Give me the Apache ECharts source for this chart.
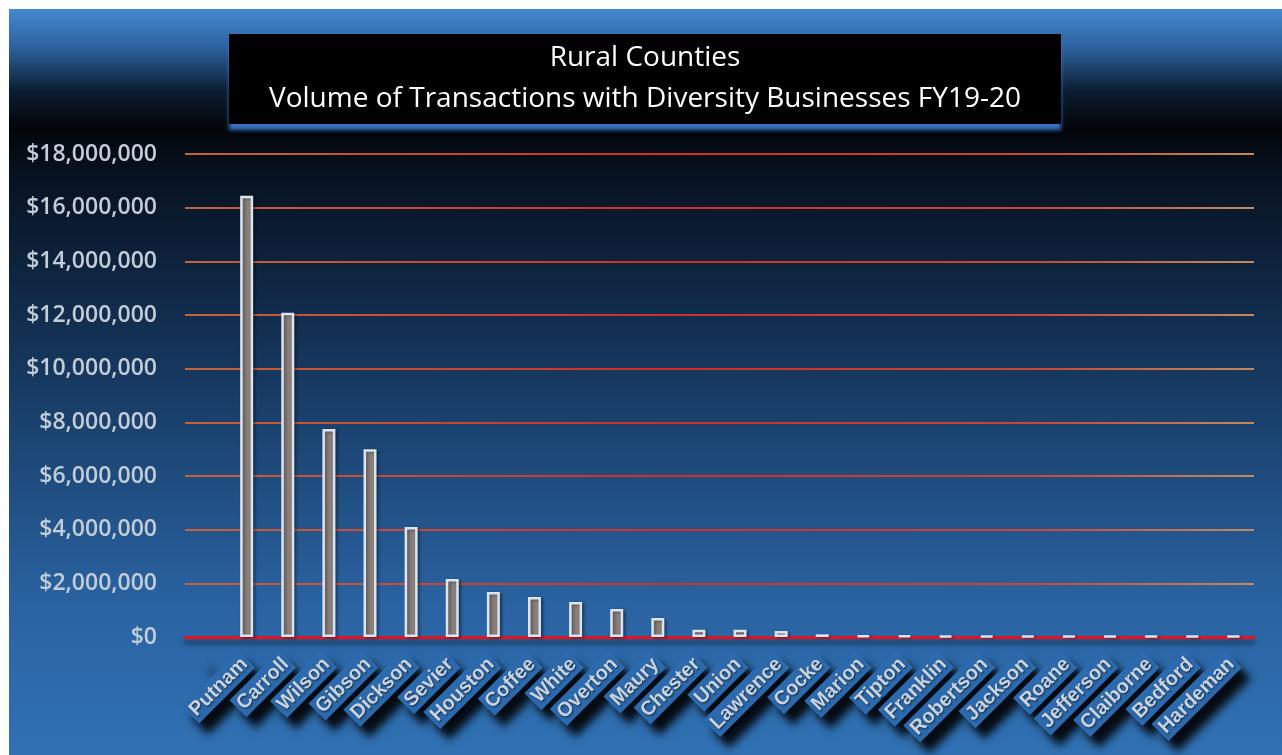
<!DOCTYPE html>
<html>
<head>
<meta charset="utf-8">
<script src="https://cdn.jsdelivr.net/npm/echarts@6/dist/echarts.min.js"></script>
<style>
    html, body {margin: 0; padding: 0; background: #fff;}
    #chart {position: absolute; left: 9px; top: 9px; width: 1273px; height: 746px;}
</style>
</head>
<body>
<div id="chart"></div>
<script>
// first slot on the axis is empty in the original
const counties = ['', 'Putnam', 'Carroll', 'Wilson', 'Gibson', 'Dickson', 'Sevier', 'Houston', 'Coffee', 'White',
    'Overton', 'Maury', 'Chester', 'Union', 'Lawrence', 'Cocke', 'Marion', 'Tipton', 'Franklin', 'Robertson',
    'Jackson', 'Roane', 'Jefferson', 'Claiborne', 'Bedford', 'Hardeman'];
const volumes = [null, 16440000, 12080000, 7750000, 7000000, 4100000, 2160000, 1680000, 1490000, 1300000,
    1040000, 710000, 270000, 270000, 220000, 100000, 50000, 50000, 45000, 45000,
    40000, 40000, 35000, 30000, 30000, 30000];
const titleLines = ['Rural Counties', 'Volume of Transactions with Diversity Businesses FY19-20'];

const chart = echarts.init(document.getElementById('chart'));
const grad = echarts.graphic.LinearGradient;

chart.setOption({
    backgroundColor: new grad(0, 0, 0, 1, [
        {offset: 0, color: '#4389ce'},
        {offset: 0.05, color: '#2c64a0'},
        {offset: 0.11, color: '#0c1d31'},
        {offset: 0.16, color: '#030508'},
        {offset: 0.22, color: '#071220'},
        {offset: 0.40, color: '#112b4b'},
        {offset: 0.60, color: '#1d4878'},
        {offset: 0.80, color: '#2a63a2'},
        {offset: 1, color: '#3071b3'}
    ]),
    title: {
        text: titleLines.join('\n'),
        left: 596, top: 25,
        textAlign: 'center',
        padding: [4, 40, 4, 40],
        backgroundColor: '#000',
        shadowColor: '#3a72c2', shadowBlur: 4, shadowOffsetY: 6,
        textStyle: {
            color: '#fff', fontFamily: 'Open Sans', fontWeight: 'normal',
            fontSize: 28, lineHeight: 41
        }
    },
    grid: {left: 176, right: 28, top: 145, bottom: 118},
    xAxis: {
        type: 'category',
        data: counties,
        axisLine: {
            lineStyle: {
                color: '#e8121c', width: 3,
                shadowColor: 'rgba(0,0,0,0.55)', shadowBlur: 5, shadowOffsetY: 5
            }
        },
        axisTick: {length: 7, lineStyle: {color: '#e8121c', width: 2.5}},
        axisLabel: {
            interval: 0, rotate: 45, margin: 22,
            color: '#c9d3de', fontFamily: 'Liberation Sans', fontWeight: 'bold', fontSize: 20,
            textShadowColor: 'rgba(0,0,0,0.6)', textShadowBlur: 2, textShadowOffsetX: 1, textShadowOffsetY: 1,
            backgroundColor: '#2c69ad', padding: [2, 3, 2, 3],
            shadowColor: 'rgba(0,0,0,0.9)', shadowBlur: 8, shadowOffsetX: 9, shadowOffsetY: 11
        }
    },
    yAxis: {
        type: 'value',
        min: 0, max: 18000000, interval: 2000000,
        axisLine: {show: false},
        axisTick: {show: false},
        axisLabel: {
            margin: 28,
            color: '#c3cdd8', fontFamily: 'Open Sans', fontWeight: 600, fontSize: 23,
            formatter: v => '$' + v.toLocaleString('en-US')
        },
        splitLine: {
            lineStyle: {
                width: 2,
                color: new grad(0, 0, 1, 0, [
                    {offset: 0, color: '#c4643a'},
                    {offset: 0.45, color: '#cf2f24'},
                    {offset: 0.8, color: '#c94a30'},
                    {offset: 1, color: '#c48a5a'}
                ])
            }
        }
    },
    series: [{
        type: 'bar',
        data: volumes,
        barWidth: 13,
        itemStyle: {
            color: '#897f7b', borderColor: '#d9e5f2', borderWidth: 2.5,
            shadowColor: 'rgba(0,0,0,0.35)', shadowBlur: 3, shadowOffsetX: 2, shadowOffsetY: 1
        }
    }]
});
</script>
</body>
</html>
